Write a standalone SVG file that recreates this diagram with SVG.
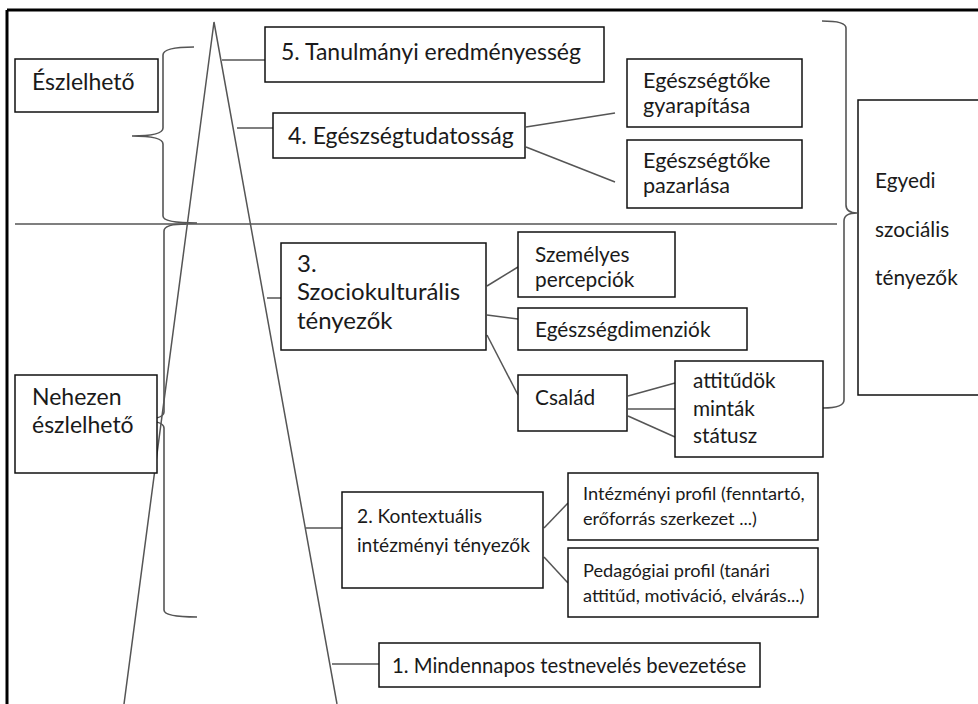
<svg xmlns="http://www.w3.org/2000/svg" width="978" height="704" viewBox="0 0 978 704">
<style>
.box{fill:#fff;stroke:#111;stroke-width:1.5}
.ln{fill:none;stroke:#555;stroke-width:1.5}
.br{fill:none;stroke:#555;stroke-width:1.6}
text{font-family:Lato,"Liberation Sans",sans-serif;fill:#1a1a1a}
.t25{font-size:23px}
.t26{font-size:24px}
.t24{font-size:21.6px}
.t23{font-size:20.8px}
.t21{font-size:19.2px}
.t1{font-size:20.3px}
.t20{font-size:18.2px}
</style>
<rect x="0" y="0" width="978" height="704" fill="#fff"/>
<g id="frame" fill="none" stroke="#000" stroke-width="3">
<line x1="7" y1="10" x2="978" y2="10"/>
<line x1="7" y1="10" x2="7" y2="704"/>
</g>
<g id="connectors">
<line class="ln" x1="15" y1="224" x2="837" y2="224"/>
<polyline class="ln" points="124,704 214,22 337,704"/>
<line class="ln" x1="222" y1="60" x2="265" y2="60"/>
<line class="ln" x1="237" y1="128" x2="273" y2="128"/>
<line class="ln" x1="526" y1="127" x2="615" y2="113"/>
<line class="ln" x1="526" y1="147" x2="615" y2="182"/>
<line class="ln" x1="267" y1="298" x2="281" y2="298"/>
<line class="ln" x1="487" y1="286" x2="518" y2="267"/>
<line class="ln" x1="487" y1="315" x2="518" y2="319"/>
<line class="ln" x1="487" y1="335" x2="518" y2="395"/>
<line class="ln" x1="628" y1="396" x2="675" y2="383"/>
<line class="ln" x1="628" y1="409" x2="675" y2="409"/>
<line class="ln" x1="628" y1="416" x2="675" y2="437"/>
<line class="ln" x1="306" y1="528" x2="342" y2="528"/>
<line class="ln" x1="544" y1="528" x2="568" y2="503"/>
<line class="ln" x1="544" y1="557" x2="568" y2="583"/>
<line class="ln" x1="332" y1="664" x2="379" y2="664"/>
</g>
<g id="braces">
<path class="br" d="M194,47 Q163,47 163,55 L163,128 Q163,136 132,136 Q163,136 163,144 L163,216 Q163,223 197,223"/>
<path class="br" d="M186,224 Q164,224 164,231 L164,412 Q164,420 135,420 Q164,420 164,428 L164,610 Q164,617 197,617"/>
<path class="br" d="M822,21 Q846,21 846,28 L846,205 Q846,213 857,213 Q844,213 844,221 L844,400 Q844,408 823,408"/>
</g>
<g id="eszlelheto"><rect class="box" x="15" y="59" width="143" height="53"/><text class="t25" x="32" y="90">Észlelhető</text></g>
<g id="nehezen"><rect class="box" x="15" y="375" width="142" height="98"/><text class="t25" x="32" y="405">Nehezen</text><text class="t25" x="32" y="433">észlelhető</text></g>
<g id="n5"><rect class="box" x="265" y="27" width="339" height="55"/><text class="t25" x="281" y="60">5. Tanulmányi eredményesség</text></g>
<g id="n4"><rect class="box" x="273" y="113" width="252" height="45"/><text class="t25" x="288" y="144">4. Egészségtudatosság</text></g>
<g id="gyarapitasa"><rect class="box" x="627" y="59" width="175" height="68"/><text class="t24" x="643" y="88">Egészségtőke</text><text class="t24" x="643" y="113">gyarapítása</text></g>
<g id="pazarlasa"><rect class="box" x="627" y="140" width="175" height="68"/><text class="t24" x="643" y="168">Egészségtőke</text><text class="t24" x="643" y="193">pazarlása</text></g>
<g id="egyedi"><rect class="box" x="858" y="100" width="125" height="295"/><text class="t23" x="875" y="188">Egyedi</text><text class="t23" x="875" y="237">szociális</text><text class="t23" x="875" y="285">tényezők</text></g>
<g id="n3"><rect class="box" x="281" y="243" width="205" height="107"/><text class="t26" x="297" y="272">3.</text><text class="t26" x="297" y="300">Szociokulturális</text><text class="t26" x="297" y="329">tényezők</text></g>
<g id="szemelyes"><rect class="box" x="518" y="232" width="157" height="65"/><text class="t23" x="535" y="262">Személyes</text><text class="t23" x="535" y="287">percepciók</text></g>
<g id="dimenziok"><rect class="box" x="518" y="308" width="229" height="42"/><text class="t23" x="535" y="337">Egészségdimenziók</text></g>
<g id="csalad"><rect class="box" x="518" y="375" width="109" height="56"/><text class="t23" x="535" y="405">Család</text></g>
<g id="attitudok"><rect class="box" x="675" y="361" width="148" height="96"/><text class="t23" x="693" y="388">attitűdök</text><text class="t23" x="693" y="416">minták</text><text class="t23" x="693" y="443">státusz</text></g>
<g id="n2"><rect class="box" x="342" y="492" width="201" height="96"/><text class="t21" x="357" y="523">2. Kontextuális</text><text class="t21" x="357" y="552">intézményi tényezők</text></g>
<g id="intezmenyi"><rect class="box" x="568" y="473" width="250" height="67"/><text class="t20" x="583" y="500">Intézményi profil (fenntartó,</text><text class="t20" x="583" y="525">erőforrás szerkezet ...)</text></g>
<g id="pedagogiai"><rect class="box" x="568" y="548" width="250" height="69"/><text class="t20" x="583" y="577">Pedagógiai profil (tanári</text><text class="t20" x="583" y="602">attitűd, motiváció, elvárás...)</text></g>
<g id="n1"><rect class="box" x="379" y="643" width="381" height="44"/><text class="t1" x="392" y="673">1. Mindennapos testnevelés bevezetése</text></g>
</svg>
